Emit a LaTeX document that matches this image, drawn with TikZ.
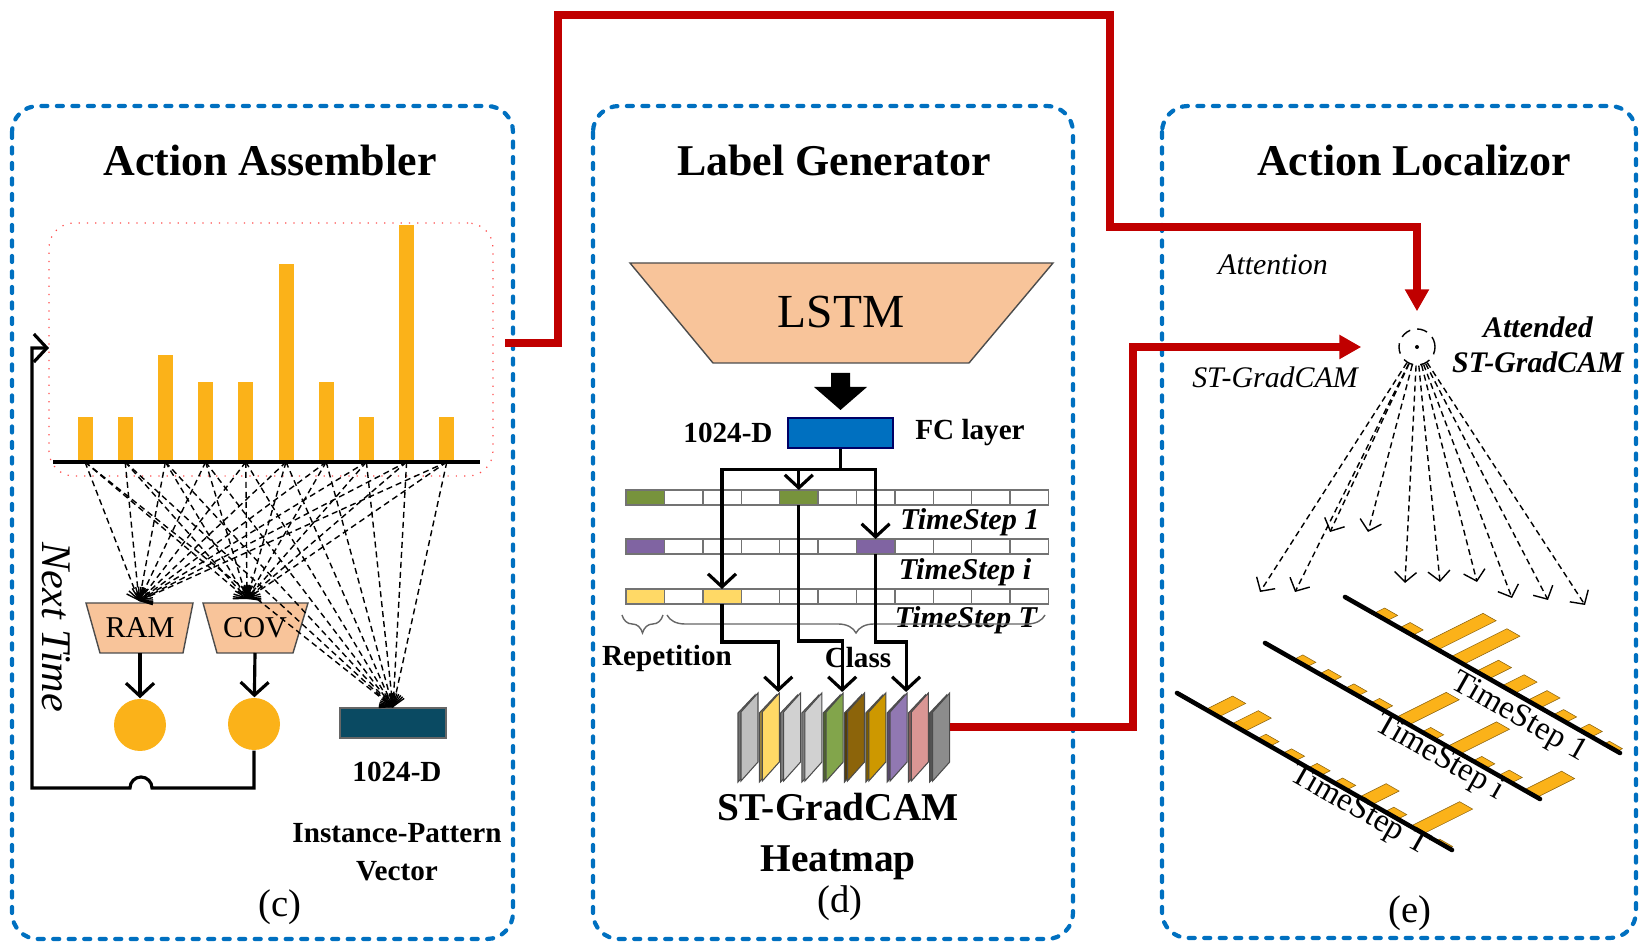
\documentclass[tikz,border=0pt]{standalone}
\usepackage{fontspec}
\setmainfont{Liberation Serif}
\usetikzlibrary{arrows.meta,calc,decorations.pathreplacing}
\definecolor{panelblue}{RGB}{0,112,192}
\definecolor{barorange}{RGB}{251,178,25}
\definecolor{peach}{RGB}{248,196,154}
\definecolor{arrowred}{RGB}{192,0,0}
\definecolor{deepteal}{RGB}{10,74,98}
\definecolor{cellgreen}{RGB}{119,147,60}
\definecolor{cellpurple}{RGB}{128,100,162}
\definecolor{cellyellow}{RGB}{255,217,102}
\definecolor{hmgreen}{RGB}{130,165,75}
\definecolor{hmbrown}{RGB}{140,100,10}
\definecolor{hmamber}{RGB}{205,152,0}
\definecolor{hmpurple}{RGB}{145,120,178}
\definecolor{hmpink}{RGB}{218,150,148}

\begin{document}
\begin{tikzpicture}[x=0.1mm, y=-0.1mm,
    panel/.style={draw=panelblue, line width=1.2pt, line cap=round,
        dash pattern=on 0.6mm off 0.95mm, rounded corners=2.6mm},
    title/.style={font=\fontsize{12.5}{15}\selectfont\bfseries},
    lbl/.style={font=\fontsize{8.3}{10.8}\selectfont\bfseries, align=center},
    slbl/.style={font=\fontsize{8.5}{10}\selectfont\itshape, align=center},
    sub/.style={font=\fontsize{11}{13}\selectfont},
    trap/.style={draw=black!70, line width=0.4pt, fill=peach},
    fan/.style={line width=0.4pt, dash pattern=on 0.6mm off 0.4mm,
        -{Straight Barb[length=1mm,width=1.8mm]}},
    flow/.style={line width=0.9pt, -{Straight Barb[length=1.3mm,width=2.8mm]}},
    link/.style={line width=0.9pt},
    redflow/.style={draw=arrowred, line width=2pt, -{Triangle[length=2.2mm,width=2.3mm]}},
    cell/.style={draw=black!55, line width=0.4pt, fill=white, minimum width=3.84mm,
        minimum height=1.5mm, inner sep=0, outer sep=0, anchor=north west},
    dot/.style={circle, fill=barorange, minimum size=5.2mm, inner sep=0},
    axis/.style={line width=1.3pt, line cap=round},
    tslbl/.style={font=\fontsize{9.3}{11}\selectfont, rotate=-29.6, inner sep=1pt}]

\useasboundingbox (0,0) rectangle (1640,944);

% panels
\draw[panel] (12,106) rectangle (513,939);
\draw[panel] (593,106) rectangle (1073,939);
\draw[panel] (1162,106) rectangle (1636,938);
\node[title] (asm) at (270,160) {Action Assembler};
\node[title] (gen) at (834,160) {Label Generator};
\node[title] (loc) at (1414,160) {Action Localizor};

% (c)
\node[draw=red!70, dotted, line width=0.35pt, rounded corners=2.5mm, minimum width=44.4mm,
      minimum height=25.3mm, inner sep=0] (chart) at (271,349.5) {};
\foreach \h [count=\i from 0] in {417,417,355,382,382,264,382,417,225,417} {
  \fill[barorange] ({77.5+40.2*\i},462) rectangle ({92.5+40.2*\i},\h);
  \coordinate (b\i) at ({85+40.2*\i},462);
}
\draw[line width=1.2pt] (53,462) -- (480,462);

\draw[trap] (86,603) -- (193,603) -- (183,653) -- (100,653) -- cycle;
\draw[trap] (203,603) -- (308,603) -- (293,653) -- (217,653) -- cycle;
\node[font=\fontsize{8.6}{10}\selectfont] (ram) at (140,628) {RAM};
\node[font=\fontsize{8.6}{10}\selectfont] (cov) at (255,628) {COV};
\node[fill=deepteal, draw=black!60, minimum width=10.6mm, minimum height=3mm, inner sep=0] (vec) at (393,723) {};
\coordinate (ramT) at (139,601);
\coordinate (covT) at (247,599);
\foreach \i in {0,...,9} {
  \draw[fan] (b\i) -- (ramT);
  \draw[fan] (b\i) -- (covT);
  \draw[fan] (b\i) -- (vec.north);
}
\node[dot] (ramC) at (140,725) {};
\node[dot] (covC) at (254,724) {};
\draw[flow] (ram.south |- 0,653) -- (ramC);
\draw[flow] (cov.south |- 0,653) -- (covC);
\draw[flow] (covC.south) -- (254,788) -- (152,788) arc (0:-180:11) -- (32,788) -- (32,348) -- (49,348);
\node[font=\fontsize{12}{14}\selectfont\itshape, rotate=-90] (next) at (56,627) {Next Time};
\node[lbl] (vecD) at (397,772) {1024-D};
\node[lbl] (vecL) at (397,852) {Instance-Pattern\\Vector};
\node[sub] (subc) at (280,907) {(c)};

% (d)
\draw[trap] (630,263) -- (1053,263) -- (969,363) -- (713,363) -- cycle;
\node[font=\fontsize{13.5}{16}\selectfont] (lstm) at (841,312) {LSTM};
\fill (831,373) -- (850,373) -- (850,387) -- (867,387) -- (840.5,410) -- (814,387) -- (831,387) -- cycle;
\node[fill=panelblue, draw=blue!40!black, minimum width=10.5mm, minimum height=3mm, inner sep=0] (fc) at (840.5,433) {};
\node[lbl] (fcD) at (728,433) {1024-D};
\node[lbl] (fcL) at (970,433) {FC layer};

\foreach \y [count=\r] in {490,539,589}
  \foreach \k in {0,...,10}
    \node[cell] (c\r-\k) at ({626+38.4*\k},\y) {};
\foreach \n/\c in {c1-0/cellgreen,c1-4/cellgreen,c2-0/cellpurple,c2-6/cellpurple,c3-0/cellyellow,c3-2/cellyellow}
  \draw[draw=black!55, line width=0.4pt, fill=\c] (\n.north west) rectangle (\n.south east);
\node[font=\fontsize{8.6}{10}\selectfont\bfseries\itshape] (ts1) at (970,522) {TimeStep 1};
\node[font=\fontsize{8.6}{10}\selectfont\bfseries\itshape] (tsi) at (965,572) {TimeStep i};
\node[font=\fontsize{8.6}{10}\selectfont\bfseries\itshape] (tsT) at (966,620) {TimeStep T};
\draw[decorate, decoration={brace, mirror, amplitude=1.8mm}, draw=black!60, line width=0.4pt] (622,615) -- (663,615);
\draw[decorate, decoration={brace, mirror, amplitude=1.8mm}, draw=black!60, line width=0.4pt] (667,615) -- (1045,615);

\foreach \c [count=\s from 0] in {black!25,cellyellow,black!18,black!18,hmgreen,hmbrown,hmamber,hmpurple,hmpink,black!45} {
  \pgfmathsetmacro{\xo}{738+21.3*\s}
  \colorlet{slabc}{\c}
  \filldraw[draw=black!70, line width=0.3pt, fill=slabc!60!black] (\xo,782) -- (\xo,713) -- (\xo+17,695) -- (\xo+17,764) -- cycle;
  \filldraw[draw=black!70, line width=0.3pt, fill=slabc] (\xo+3,781) -- (\xo+3,712) -- (\xo+20,693) -- (\xo+20,762) -- cycle;
  \coordinate (hm\s) at (\xo+19,692);
}

\draw[link] (fc.south) -- ++(0,21) coordinate (split);
\draw[flow] (split) -| (c3-2.north);
\draw[flow] (split) -| (c2-6.north);
\draw[flow] (c1-4.north |- split) -- (c1-4.north);
\draw[flow] (c3-2.south) -- (c3-2.south |- 0,642) -| (hm1);
\draw[flow] (c1-4.south) -- (c1-4.south |- 0,641) -| (hm4);
\draw[flow] (c2-6.south) -- (c2-6.south |- 0,642) -| (hm7);
\node[lbl] (rep) at (667,658) {Repetition};
\node[lbl] (cls) at (858,658) {Class};
\node[font=\fontsize{11.2}{14.5}\selectfont\bfseries, align=center] (heat) at (838,837) {ST-GradCAM\\Heatmap};
\node[sub] (subd) at (840,903) {(d)};

% (e)
\node[slbl] (attn) at (1273,265) {Attention};
\node[slbl] (stg) at (1275,377) {ST-GradCAM};
\node[circle, draw, densely dashed, line width=0.4pt, minimum size=3.6mm, inner sep=0] (att) at (1417,347) {};
\fill (att.center) circle (2);
\node[font=\fontsize{8.5}{10}\selectfont\bfseries\itshape, align=center] (attd) at (1538,345) {Attended\\ST-GradCAM};
\foreach \x/\y in {1260/592,1295/592,1330/532,1368/532,1405/583,1440/582,1477/582,1512/598,1548/600,1585/605}
  \draw[fan, -{Straight Barb[length=1mm,width=2.2mm]}] (att) -- (\x,\y);

\coordinate (a1s) at (1345,597); \coordinate (a1e) at (1620,753);
\coordinate (a2s) at (1265,643); \coordinate (a2e) at (1540,799);
\coordinate (a3s) at (1177,693); \coordinate (a3e) at (1452,850);
\foreach \s/\e/\hs in {a1s/a1e/{12,12,65,63,25,25,22,12,12,6},
                       a2s/a2e/{10,10,10,10,56,10,55,10,12,42},
                       a3s/a3e/{30,30,10,10,10,10,30,10,55,4}} {
  \foreach \h [count=\k from 0] in \hs
    \filldraw[fill=barorange, draw=barorange!55!black, line width=0.15pt]
      ($(\s)!{0.105+0.093*\k}!(\e)$) -- ++(13,7.4) -- ++({0.894*\h},{-0.447*\h}) -- ++(-13,-7.4) -- cycle;
  \draw[axis] (\s) -- (\e);
}
\node[tslbl] (ax1) at (1519,718) {TimeStep 1};
\node[tslbl] (axi) at (1439,758) {TimeStep i};
\node[tslbl] (axT) at (1359,811) {TimeStep T};
\node[sub] (sube) at (1410,913) {(e)};

% red links
\coordinate (tap) at (505,343);
\draw[redflow, shorten >=1.7mm] (tap) -- (558,343) -- (558,15) -- (1110,15) -- (1110,227) -| (att.north);
\coordinate (hmR) at (950,727);
\draw[redflow, shorten >=3.7mm] (hmR) -- (1133,727) |- (att.west);
\end{tikzpicture}
\end{document}
